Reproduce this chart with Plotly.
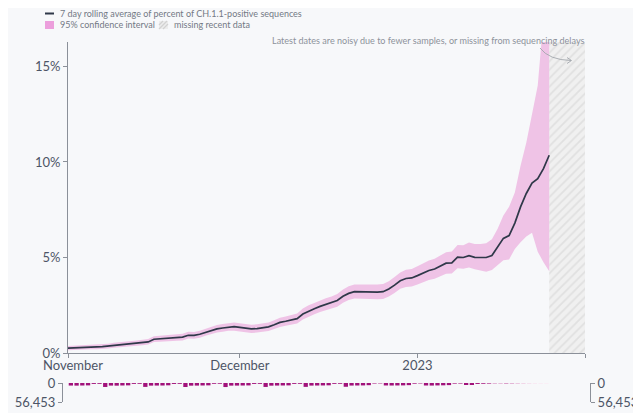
import pandas as pd
import plotly.graph_objects as go

# ---------------- data ----------------
start_date = "2022-11-01"
n_days = 85
dates = pd.date_range(start_date, periods=n_days, freq="D")

# 7 day rolling average of percent of CH.1.1-positive sequences (%)
rolling_pct = [0.25, 0.27, 0.28, 0.30, 0.31, 0.32, 0.33, 0.36, 0.40, 0.42,
               0.44, 0.46, 0.50, 0.54, 0.58, 0.72, 0.74, 0.77, 0.79, 0.80,
               0.83, 0.93, 0.92, 0.98, 1.08, 1.18, 1.26, 1.31, 1.36, 1.38,
               1.34, 1.30, 1.26, 1.28, 1.33, 1.37, 1.48, 1.60, 1.66, 1.72,
               1.80, 2.04, 2.20, 2.32, 2.44, 2.55, 2.63, 2.75, 2.97, 3.12,
               3.21, 3.20, 3.19, 3.18, 3.19, 3.21, 3.35, 3.55, 3.78, 3.90,
               3.93, 4.05, 4.20, 4.32, 4.40, 4.55, 4.70, 4.72, 5.02, 5.00,
               5.10, 5.01, 5.00, 5.00, 5.10, 5.55, 6.00, 6.15, 6.80, 7.65,
               8.35, 8.90, 9.12, 9.65, 10.35]

ci_lower = [0.14, 0.16, 0.17, 0.18, 0.19, 0.20, 0.21, 0.24, 0.27, 0.29,
            0.31, 0.33, 0.36, 0.40, 0.44, 0.57, 0.59, 0.62, 0.63, 0.64,
            0.66, 0.76, 0.75, 0.80, 0.90, 0.99, 1.07, 1.11, 1.16, 1.17,
            1.13, 1.09, 1.05, 1.07, 1.11, 1.15, 1.25, 1.36, 1.42, 1.47,
            1.54, 1.76, 1.91, 2.03, 2.14, 2.24, 2.31, 2.42, 2.63, 2.77,
            2.85, 2.84, 2.82, 2.81, 2.82, 2.83, 2.96, 3.14, 3.36, 3.46,
            3.48, 3.58, 3.72, 3.82, 3.89, 4.02, 4.15, 4.16, 4.44, 4.41,
            4.48, 4.38, 4.32, 4.25, 4.35, 4.60, 4.85, 4.90, 5.45, 5.80,
            6.10, 6.30, 5.30, 4.75, 4.28]

ci_upper = [0.37, 0.39, 0.40, 0.42, 0.43, 0.45, 0.46, 0.49, 0.54, 0.56,
            0.58, 0.60, 0.65, 0.69, 0.73, 0.88, 0.90, 0.93, 0.96, 0.97,
            1.01, 1.11, 1.10, 1.17, 1.27, 1.38, 1.46, 1.52, 1.57, 1.60,
            1.56, 1.52, 1.48, 1.50, 1.56, 1.60, 1.72, 1.85, 1.91, 1.98,
            2.07, 2.33, 2.50, 2.62, 2.75, 2.87, 2.96, 3.09, 3.33, 3.49,
            3.59, 3.58, 3.57, 3.56, 3.58, 3.61, 3.76, 3.98, 4.22, 4.36,
            4.40, 4.54, 4.70, 4.84, 4.93, 5.10, 5.28, 5.31, 5.65, 5.64,
            5.78, 5.70, 5.70, 5.75, 5.95, 6.50, 7.20, 7.65, 8.40, 9.80,
            11.00, 12.50, 14.00, 17.50, 19.50]

# daily number of sequences (bottom strip)
daily_sequences = [7600, 7800, 7500, 7100, 2700, 2500,
                   11800, 7700, 7900, 7400, 7000, 2600, 2400,
                   11600, 7800, 7600, 7500, 6900, 2800, 2500,
                   11900, 7900, 7700, 7400, 7000, 2300, 2200,
                   12000, 7800, 7700, 7500, 7200, 2700, 2500,
                   11700, 7900, 7600, 7400, 7100, 2600, 2400,
                   11500, 7700, 7500, 7300, 6900, 2500, 2300,
                   11200, 7600, 7400, 7200, 6500, 1500, 1200,
                   7300, 7500, 7300, 7100, 6400, 2000, 1300,
                   7400, 7600, 7200, 6900, 6300, 1800, 1600,
                   5200, 3600, 2800, 2200, 1700, 800, 700,
                   1100, 800, 550, 350, 200, 90, 60,
                   30, 10]
sequences_axis_max = 56453

missing_start = "2023-01-24"
x_end = "2023-01-30 06:00"
y_top = 16.28

x_tick_dates = ["2022-11-01", "2022-12-01", "2023-01-01"]
x_tick_labels = ["November", "December", "2023"]
y_tick_vals = [0, 5, 10, 15]

legend_line_label = "7 day rolling average of percent of CH.1.1-positive sequences"
legend_ci_label = "95% confidence interval"
legend_missing_label = "missing recent data"
note_text = "Latest dates are noisy due to fewer samples, or missing from sequencing delays"

# ---------------- style / geometry ----------------
# the page body has an 8px default margin: the figure is drawn at (8, 8)
OFF = 8
W, H = 641 - OFF, 413 - OFF
ML, MR, MT, MB = 52, 48, 32, 0
PW, PH = W - ML - MR, H - MT - MB


def px(x):  # screen pixel x -> paper
    return (x - OFF - ML) / PW


def py(y):  # screen pixel y -> paper
    return (OFF + H - MB - y) / PH


FONT = "Lato, DejaVu Sans, sans-serif"
AXIS_C = "#8b9099"
TICK_TXT = "#4d5566"
NOTE_C = "#8d929b"
LINE_C = "#2f3849"
PINK = "#efc3e6"
MAGENTA = "#a1127a"
BG = "#f7f8fa"

fig = go.Figure()

# missing recent data (hatched)
ms = pd.Timestamp(missing_start)
me = pd.Timestamp(x_end)
fig.add_trace(go.Bar(
    x=[ms + (me - ms) / 2], y=[y_top], width=[(me - ms).total_seconds() * 1000],
    marker=dict(color="#f0f0f0", line=dict(width=0),
                pattern=dict(shape="/", fgcolor="#d0d0d0", size=6, solidity=0.28)),
    xaxis="x", yaxis="y", showlegend=False, hoverinfo="skip"))

# confidence interval
fig.add_trace(go.Scatter(x=dates, y=ci_lower, mode="lines", line=dict(width=0),
                         xaxis="x", yaxis="y", showlegend=False, hoverinfo="skip"))
fig.add_trace(go.Scatter(x=dates, y=ci_upper, mode="lines", line=dict(width=0),
                         fill="tonexty", fillcolor=PINK,
                         xaxis="x", yaxis="y", showlegend=False, hoverinfo="skip"))
# rolling average line
fig.add_trace(go.Scatter(x=dates, y=rolling_pct, mode="lines",
                         line=dict(color=LINE_C, width=1.7),
                         xaxis="x", yaxis="y", showlegend=False))

# daily sequences strip
fig.add_trace(go.Bar(
    x=dates, y=daily_sequences, xperiod=86400000, xperiodalignment="middle",
    marker=dict(color=daily_sequences, cmin=0, cmax=3000,
                colorscale=[[0, "#fbf1f7"], [1, MAGENTA]], line=dict(width=0)),
    xaxis="x2", yaxis="y2", showlegend=False))
fig.add_trace(go.Scatter(x=dates, y=daily_sequences, mode="none",
                         xaxis="x2", yaxis="y3", showlegend=False, hoverinfo="skip"))

tickfont = dict(family=FONT, size=13, color=TICK_TXT)
seq_ticktext = ["0", f"{sequences_axis_max:,}"]
# the first month label sits slightly right of its tick in the original
x_ticktext = ["\u00a0\u00a0\u00a0" + x_tick_labels[0]] + x_tick_labels[1:] + [""]
fig.update_layout(
    width=W, height=H,
    margin=dict(l=ML, r=MR, t=MT, b=MB, autoexpand=False),
    paper_bgcolor=BG, plot_bgcolor=BG,
    bargap=0.25,
    showlegend=False,
    font=dict(family=FONT),
    xaxis=dict(domain=[px(68), px(585)], anchor="y", type="date",
               range=[start_date, x_end], automargin=False,
               tickvals=x_tick_dates + [x_end], ticktext=x_ticktext,
               ticks="outside", ticklen=4, tickcolor=AXIS_C, ticklabelstandoff=-4,
               showline=True, linecolor=AXIS_C, linewidth=1,
               showgrid=False, zeroline=False, tickfont=tickfont),
    yaxis=dict(domain=[py(353), py(42)], anchor="x", range=[0, y_top], automargin=False,
               tickvals=y_tick_vals, ticktext=[f"{v}%" for v in y_tick_vals],
               ticks="outside", ticklen=4, tickcolor=AXIS_C,
               showline=True, linecolor=AXIS_C, linewidth=1,
               showgrid=False, zeroline=False, tickfont=tickfont),
    xaxis2=dict(domain=[px(68), px(585)], anchor="y2", matches="x", visible=False),
    yaxis2=dict(domain=[py(402), py(383)], anchor="free", position=px(62), side="left",
                range=[sequences_axis_max, 0], automargin=False,
                tickvals=[0, sequences_axis_max], ticktext=seq_ticktext,
                ticks="outside", ticklen=4, tickcolor=AXIS_C,
                showline=True, linecolor=AXIS_C, linewidth=1,
                showgrid=False, zeroline=False, tickfont=tickfont),
    yaxis3=dict(overlaying="y2", anchor="free", position=px(590), side="right",
                range=[sequences_axis_max, 0], automargin=False,
                tickvals=[0, sequences_axis_max], ticktext=seq_ticktext,
                ticks="outside", ticklen=4, tickcolor=AXIS_C,
                showline=True, linecolor=AXIS_C, linewidth=1,
                showgrid=False, zeroline=False, tickfont=tickfont),
)

# ---- manual legend ----
shapes = []
annos = []
leg_font = dict(family=FONT, size=9, color="#737985")
shapes.append(dict(type="line", xref="paper", yref="paper",
                   x0=px(45), x1=px(54), y0=py(13.5), y1=py(13.5),
                   line=dict(color=LINE_C, width=2)))
annos.append(dict(text=legend_line_label, xref="paper", yref="paper",
                  x=px(58), y=py(13.5), xanchor="left", yanchor="middle",
                  showarrow=False, font=leg_font))
shapes.append(dict(type="rect", xref="paper", yref="paper",
                   x0=px(45), x1=px(54), y0=py(29), y1=py(21),
                   fillcolor="#ec9fdc", line=dict(width=0)))
annos.append(dict(text=legend_ci_label, xref="paper", yref="paper",
                  x=px(58), y=py(25), xanchor="left", yanchor="middle",
                  showarrow=False, font=leg_font))
shapes.append(dict(type="rect", xref="paper", yref="paper",
                   x0=px(159), x1=px(168), y0=py(29), y1=py(21),
                   fillcolor="#ededed", line=dict(width=0)))
for a, b in [((159, 25), (163, 21)), ((159, 29), (167, 21)), ((163, 29), (168, 24))]:
    shapes.append(dict(type="line", xref="paper", yref="paper",
                       x0=px(a[0]), y0=py(a[1]), x1=px(b[0]), y1=py(b[1]),
                       line=dict(color="#d2d2d2", width=1.2)))
annos.append(dict(text=legend_missing_label, xref="paper", yref="paper",
                  x=px(172), y=py(25), xanchor="left", yanchor="middle",
                  showarrow=False, font=leg_font))

# ---- note + curved arrow ----
annos.append(dict(text=note_text, xref="paper", yref="paper",
                  x=px(586), y=py(40), xanchor="right", yanchor="middle",
                  showarrow=False, font=dict(family=FONT, size=9.05, color=NOTE_C)))
path = "M {:.5f},{:.5f} Q {:.5f},{:.5f} {:.5f},{:.5f}".format(
    px(540), py(48), px(549), py(60), px(571), py(60.5))
shapes.append(dict(type="path", xref="paper", yref="paper", path=path,
                   line=dict(color="#a3a7ad", width=0.9)))
for wx, wy in [(567, 57.5), (567, 63.5)]:
    shapes.append(dict(type="line", xref="paper", yref="paper",
                       x0=px(wx), y0=py(wy), x1=px(571.5), y1=py(60.5),
                       line=dict(color="#a3a7ad", width=0.9)))

fig.update_layout(shapes=shapes, annotations=annos)
fig.write_html("out.html")
